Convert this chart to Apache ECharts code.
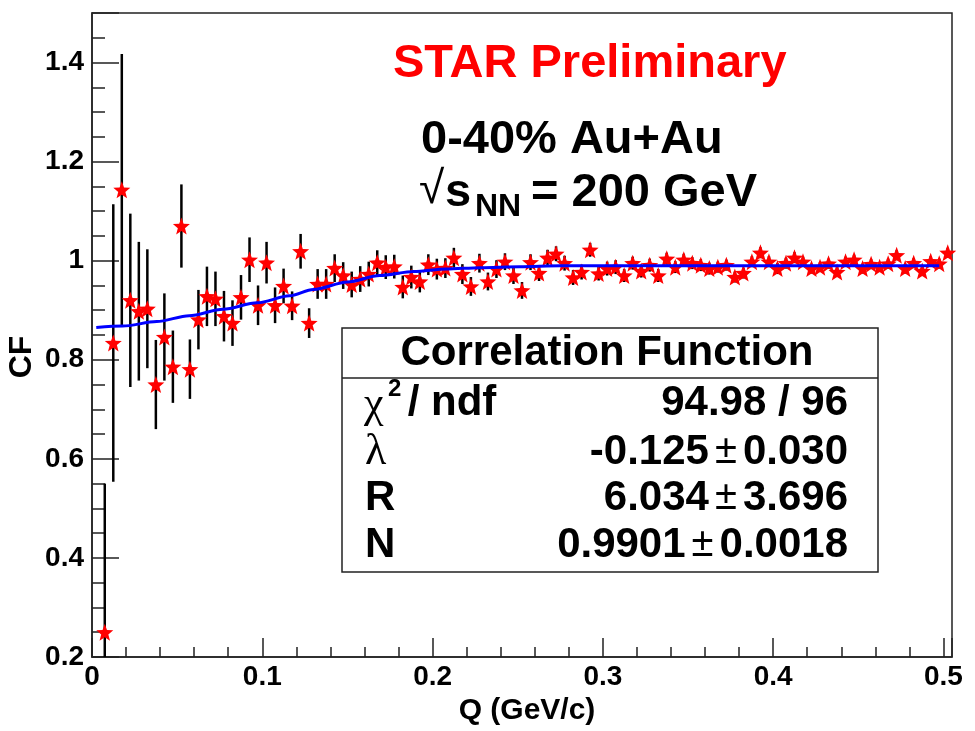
<!DOCTYPE html>
<html><head><meta charset="utf-8">
<script src="https://cdn.jsdelivr.net/npm/echarts@6/dist/echarts.min.js"></script>
<style>html,body{margin:0;padding:0;background:#fff}#c{width:975px;height:731px}</style>
</head><body><div id="c"></div>
<script>
// ---- data ----
const qValues = [
0.0075,0.0125,0.0175,0.0225,0.0275,0.0325,0.0375,0.0425,0.0475,0.0525,
0.0575,0.0625,0.0675,0.0725,0.0775,0.0825,0.0875,0.0925,0.0975,0.1025,
0.1075,0.1125,0.1175,0.1225,0.1275,0.1325,0.1375,0.1425,0.1475,0.1525,
0.1575,0.1625,0.1675,0.1725,0.1775,0.1825,0.1875,0.1925,0.1975,0.2025,
0.2075,0.2125,0.2175,0.2225,0.2275,0.2325,0.2375,0.2425,0.2475,0.2525,
0.2575,0.2625,0.2675,0.2725,0.2775,0.2825,0.2875,0.2925,0.2975,0.3025,
0.3075,0.3125,0.3175,0.3225,0.3275,0.3325,0.3375,0.3425,0.3475,0.3525,
0.3575,0.3625,0.3675,0.3725,0.3775,0.3825,0.3875,0.3925,0.3975,0.4025,
0.4075,0.4125,0.4175,0.4225,0.4275,0.4325,0.4375,0.4425,0.4475,0.4525,
0.4575,0.4625,0.4675,0.4725,0.4775,0.4825,0.4875,0.4925,0.4975,0.5025];
const cfValues = [
0.250,0.834,1.143,0.920,0.898,0.903,0.750,0.846,0.786,1.070,
0.781,0.881,0.928,0.923,0.888,0.874,0.926,1.002,0.910,0.996,
0.910,0.949,0.909,1.019,0.874,0.953,0.953,0.985,0.970,0.952,
0.963,0.973,0.996,0.987,0.988,0.947,0.967,0.958,0.992,0.983,
0.985,1.006,0.973,0.948,0.995,0.958,0.983,0.998,0.970,0.940,
0.997,0.975,1.006,1.014,0.995,0.966,0.977,1.022,0.974,0.984,
0.987,0.970,0.995,0.979,0.991,0.970,1.004,0.987,1.002,0.995,
0.991,0.984,0.987,0.991,0.967,0.975,0.998,1.016,0.998,0.984,
0.995,1.006,0.998,0.984,0.987,0.994,0.977,0.998,1.002,0.984,
0.993,0.987,0.994,1.011,0.984,0.995,0.979,0.999,0.994,1.016];
const cfErrors = [
0.300,0.280,0.274,0.175,0.140,0.120,0.090,0.088,0.073,0.084,
0.060,0.060,0.060,0.055,0.051,0.046,0.045,0.045,0.040,0.042,
0.036,0.035,0.029,0.035,0.030,0.030,0.030,0.028,0.027,0.026,
0.026,0.025,0.025,0.024,0.024,0.023,0.023,0.022,0.021,0.021,
0.020,0.020,0.020,0.019,0.019,0.018,0.018,0.017,0.017,0.017,
0.016,0.016,0.016,0.015,0.015,0.015,0.015,0.014,0.014,0.014,
0.014,0.013,0.013,0.013,0.013,0.013,0.012,0.012,0.012,0.012,
0.012,0.012,0.011,0.011,0.011,0.011,0.011,0.011,0.011,0.011,
0.011,0.011,0.010,0.010,0.010,0.010,0.010,0.010,0.010,0.010,
0.010,0.010,0.010,0.010,0.010,0.010,0.010,0.010,0.010,0.010];
const fitQ  = [0.0025,0.018,0.038,0.057,0.077,0.097,0.116,0.130,0.150,0.169,0.189,0.208,0.228,0.251,0.275,0.357,0.4975];
const fitCF = [0.865,0.868,0.877,0.889,0.902,0.915,0.929,0.942,0.957,0.970,0.978,0.983,0.986,0.988,0.990,0.990,0.990];
const xTickLabels = ['0','0.1','0.2','0.3','0.4','0.5'];
const yTickLabels = ['0.2','0.4','0.6','0.8','1','1.2','1.4'];
const xTitle = 'Q (GeV/c)';
const yTitle = 'CF';
const statTitle = 'Correlation Function';
const statNames = ['λ', 'R', 'N'];
const statValues = [['94.98 / 96'], ['-0.125', '0.030'], ['6.034', '3.696'], ['0.9901', '0.0018']];

// ---- chart ----
const xMin = 0, xMax = 0.505, yMin = 0.2, yMax = 1.5;
const FF = "'Liberation Sans', Arial, Helvetica, sans-serif";
const SERIF = "'Liberation Serif', 'DejaVu Serif', serif";
const AX = '#222';
const starPath = 'path://M50,0 L62.3,33 L97.6,34.5 L70,56.8 L79.4,90.5 L50,71.5 L20.6,90.5 L30,56.8 L2.4,34.5 L37.7,33 Z';

function pickLabel(list) {
  return function (v) {
    for (const s of list) if (Math.abs(parseFloat(s) - v) < 1e-6) return s;
    return '';
  };
}

const chart = echarts.init(document.getElementById('c'), null, {renderer: 'canvas'});

const errData = qValues.map((q, i) => [q, cfValues[i] - cfErrors[i], cfValues[i] + cfErrors[i]]);
const ptData = qValues.map((q, i) => [q, cfValues[i]]);
const fitData = fitQ.map((q, i) => [q, fitCF[i]]);

const statRowsY = [403, 452, 498, 545];
const graphics = [
  {type: 'text', x: 393, y: 64, z: 100, style: {text: 'STAR Preliminary', font: 'bold 47px ' + FF, fill: '#ff0000', align: 'left', verticalAlign: 'middle'}},
  {type: 'text', x: 421, y: 140, z: 100, style: {text: '0-40% Au+Au', font: 'bold 47px ' + FF, fill: '#000', align: 'left', verticalAlign: 'middle'}},
  {type: 'text', x: 419, y: 190, z: 100, style: {text: '√', font: 'normal 46px ' + FF, fill: '#000', align: 'left', verticalAlign: 'middle'}},
  {type: 'text', x: 445, y: 193, z: 100, style: {text: 's', font: 'bold 47px ' + FF, fill: '#000', align: 'left', verticalAlign: 'middle'}},
  {type: 'text', x: 475, y: 207, z: 100, style: {text: 'NN', font: 'bold 32px ' + FF, fill: '#000', align: 'left', verticalAlign: 'middle'}},
  {type: 'text', x: 531, y: 193, z: 100, style: {text: '= 200 GeV', font: 'bold 47px ' + FF, fill: '#000', align: 'left', verticalAlign: 'middle'}},
  {type: 'text', x: 22, y: 357, rotation: Math.PI / 2, z: 100, style: {text: yTitle, font: 'bold 32px ' + FF, fill: '#000', align: 'center', verticalAlign: 'middle'}},
  {type: 'text', x: 527, y: 711, z: 100, style: {text: xTitle, font: 'bold 30px ' + FF, fill: '#000', align: 'center', verticalAlign: 'middle'}},
  {type: 'rect', z: 90, shape: {x: 342, y: 328, width: 536, height: 244}, style: {fill: '#fff', stroke: AX, lineWidth: 1.5}},
  {type: 'line', z: 100, shape: {x1: 342, y1: 378, x2: 878, y2: 378}, style: {stroke: AX, lineWidth: 1.5}},
  {type: 'text', x: 607, y: 353, z: 100, style: {text: statTitle, font: 'bold 42px ' + FF, fill: '#000', align: 'center', verticalAlign: 'middle'}},
  // chi2 / ndf row
  {type: 'text', x: 364, y: statRowsY[0] + 2, z: 100, style: {text: 'χ', font: 'normal 44px ' + SERIF, fill: '#000', align: 'left', verticalAlign: 'middle'}},
  {type: 'text', x: 388, y: statRowsY[0] - 14, z: 100, style: {text: '2', font: 'bold 24px ' + FF, fill: '#000', align: 'left', verticalAlign: 'middle'}},
  {type: 'text', x: 396, y: statRowsY[0], z: 100, style: {text: ' / ndf', font: 'bold 42px ' + FF, fill: '#000', align: 'left', verticalAlign: 'middle'}},
  {type: 'text', x: 848, y: statRowsY[0], z: 100, style: {text: statValues[0][0], font: 'bold 42px ' + FF, fill: '#000', align: 'right', verticalAlign: 'middle'}}
];
for (let i = 0; i < 3; i++) {
  const isGreek = i === 0;
  graphics.push({type: 'text', x: 365, y: statRowsY[i + 1], z: 100, style: {text: statNames[i], font: (isGreek ? 'normal 44px ' + SERIF : 'bold 42px ' + FF), fill: '#000', align: 'left', verticalAlign: 'middle'}});
  graphics.push({type: 'text', x: 848, y: statRowsY[i + 1], z: 100, style: {
    text: '{b|' + statValues[i + 1][0] + '}{pm|±}{b|' + statValues[i + 1][1] + '}',
    align: 'right', verticalAlign: 'middle',
    rich: {
      b: {font: 'bold 42px ' + FF, fill: '#000'},
      pm: {font: 'normal 40px ' + FF, fill: '#000', padding: [0, 6, 0, 6]}
    }
  }});
}

const option = {
  backgroundColor: '#fff',
  animation: false,
  grid: {left: 92, right: 23, top: 13, bottom: 74, show: true, borderColor: AX, borderWidth: 1.5, backgroundColor: 'transparent'},
  xAxis: [
    {type: 'value', min: xMin, max: xMax, interval: 0.1, position: 'bottom',
     axisLine: {show: true, lineStyle: {color: AX, width: 1.5}},
     axisTick: {show: true, inside: true, length: 19, lineStyle: {color: AX, width: 1.5}},
     axisLabel: {show: true, margin: 6, color: '#000', fontSize: 28, fontWeight: 'bold', fontFamily: FF, formatter: pickLabel(xTickLabels)},
     splitLine: {show: false}},
    {type: 'value', min: xMin, max: xMax, interval: 0.02, position: 'bottom',
     axisLine: {show: false},
     axisTick: {show: true, inside: true, length: 10, lineStyle: {color: AX, width: 1.5}},
     axisLabel: {show: false}, splitLine: {show: false}}
  ],
  yAxis: [
    {type: 'value', min: yMin, max: yMax, interval: 0.2, position: 'left',
     axisLine: {show: true, lineStyle: {color: AX, width: 1.5}},
     axisTick: {show: true, inside: true, length: 27, lineStyle: {color: AX, width: 1.5}},
     axisLabel: {show: true, margin: 8, color: '#000', fontSize: 28, fontWeight: 'bold', fontFamily: FF, formatter: pickLabel(yTickLabels)},
     splitLine: {show: false}},
    {type: 'value', min: yMin, max: yMax, interval: 0.05, position: 'left',
     axisLine: {show: false},
     axisTick: {show: true, inside: true, length: 13, lineStyle: {color: AX, width: 1.5}},
     axisLabel: {show: false}, splitLine: {show: false}}
  ],
  series: [
    {type: 'custom', name: 'errors', xAxisIndex: 0, yAxisIndex: 0, z: 2,
     data: errData, encode: {x: 0, y: [1, 2]},
     renderItem: function (params, api) {
       const q = api.value(0);
       const lo = Math.max(api.value(1), yMin), hi = Math.min(api.value(2), yMax);
       const p1 = api.coord([q, lo]), p2 = api.coord([q, hi]);
       return {type: 'line', shape: {x1: p1[0], y1: p1[1], x2: p2[0], y2: p2[1]}, style: {stroke: '#000', lineWidth: 2.5}};
     }},
    {type: 'scatter', name: 'CF', xAxisIndex: 0, yAxisIndex: 0, z: 3,
     data: ptData, symbol: starPath, symbolSize: 17,
     itemStyle: {color: '#ff0000', opacity: 1}},
    {type: 'line', name: 'fit', xAxisIndex: 0, yAxisIndex: 0, z: 4,
     data: fitData, smooth: 0.3, smoothMonotone: 'x', showSymbol: false, symbol: 'none',
     lineStyle: {color: '#0000ff', width: 3}}
  ],
  graphic: graphics
};
chart.setOption(option);
</script>
</body></html>
